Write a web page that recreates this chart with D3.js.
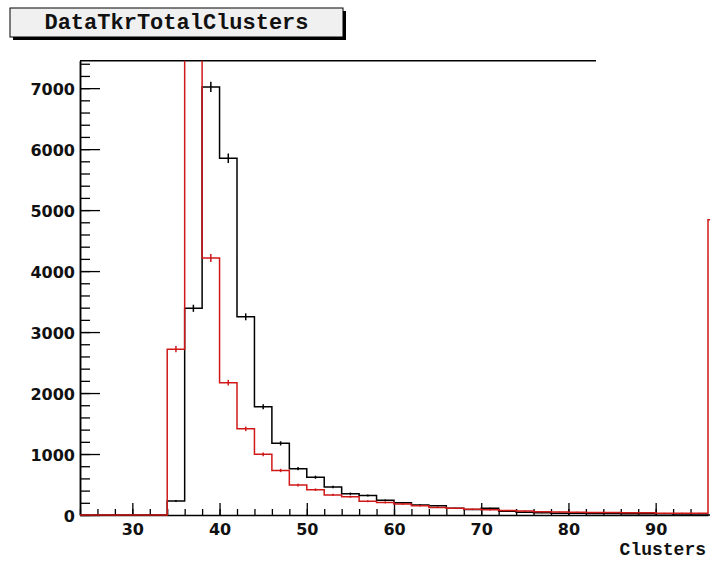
<!DOCTYPE html>
<html><head><meta charset="utf-8">
<script src="https://cdn.jsdelivr.net/npm/d3@7"></script>
<style>
body{margin:0;background:#fff;}
svg{display:block;}
</style></head>
<body>
<svg id="chart" width="710" height="561"></svg>
<script>
// bin lower edges (width 2) and contents
const binEdges = [24,26,28,30,32,34,36,38,40,42,44,46,48,50,52,54,56,58,60,62,64,66,68,70,72,74,76,78,80,82,84,86,88,90,92,94,96,98];
const blackCounts = [0,0,0,0,0,230,3390,7020,5850,3250,1775,1175,760,620,460,350,320,240,200,165,150,110,90,110,60,45,35,30,30,25,25,20,20,20,0,0,0];
const redCounts   = [0,0,0,0,0,2720,10500,4215,2170,1413,995,730,490,415,330,300,225,205,180,150,125,110,95,85,75,65,55,50,45,40,40,35,35,30,30,30,4840];
const xTicks = [30,40,50,60,70,80,90];
const yTicks = [0,1000,2000,3000,4000,5000,6000,7000];
const titleText = "DataTkrTotalClusters";
const xTitle = "Clusters";

const svg = d3.select("#chart");
const L = 80, R = 708, T = 60.7, B = 515;
const x = d3.scaleLinear().domain([24, 96]).range([L, R]);
const y = d3.scaleLinear().domain([0, 7450]).range([B, T]);

svg.append("defs").append("clipPath").attr("id","clip")
  .append("rect").attr("x", L).attr("y", T).attr("width", 710 - L + 2).attr("height", B - T + 1);

function histPath(counts){
  const p = d3.path();
  p.moveTo(x(binEdges[0]), y(0));
  counts.forEach((v,i)=>{
    p.lineTo(x(binEdges[i]), y(v));
    p.lineTo(x(binEdges[i+1]), y(v));
  });
  p.lineTo(x(binEdges[counts.length]), y(0));
  return p.toString();
}
function errBars(g, counts, color){
  g.selectAll("line.err").data(counts.map((v,i)=>({v, c:(binEdges[i]+binEdges[i+1])/2})).filter(d=>d.v>0))
    .enter().append("line")
    .attr("x1", d=>x(d.c)).attr("x2", d=>x(d.c))
    .attr("y1", d=>y(d.v + Math.sqrt(d.v))).attr("y2", d=>y(d.v - Math.sqrt(d.v)))
    .attr("stroke", color).attr("stroke-width", 1.5);
}

// axes
const yAxis = d3.axisLeft(y).tickValues(yTicks).tickSizeInner(-20).tickSizeOuter(0).tickPadding(5).tickFormat(d3.format("d"));
const yMinor = d3.axisLeft(y).tickValues(d3.range(0, 7450, 200)).tickSizeInner(-10).tickSizeOuter(0).tickFormat("");
const xAxis = d3.axisBottom(x).tickValues(xTicks).tickSizeInner(-12).tickSizeOuter(0).tickPadding(9).tickFormat(d3.format("d"));
const xMinor = d3.axisBottom(x).tickValues(d3.range(24, 96, 2)).tickSizeInner(-6).tickSizeOuter(0).tickFormat("");

function styleAxis(g){
  g.selectAll("path.domain").attr("stroke","#000").attr("stroke-width",1.5);
  g.selectAll(".tick line").attr("stroke","#000").attr("stroke-width",1.3);
  g.selectAll(".tick text").attr("fill","#111").style("font-family","'DejaVu Sans',sans-serif")
    .style("font-weight","bold").style("font-size","16px");
}
const gx2 = svg.append("g").attr("transform",`translate(0,${B})`).call(xMinor); styleAxis(gx2);
const gx = svg.append("g").attr("transform",`translate(0,${B})`).call(xAxis); styleAxis(gx);
gx.select("path.domain").remove();
const gy2 = svg.append("g").attr("transform",`translate(${L},0)`).call(yMinor); styleAxis(gy2);
const gy = svg.append("g").attr("transform",`translate(${L},0)`).call(yAxis); styleAxis(gy);
gy.selectAll(".tick text").attr("dy","0.4em");

// top frame line
svg.append("line").attr("x1", L).attr("x2", 596).attr("y1", T).attr("y2", T)
  .attr("stroke","#000").attr("stroke-width",1.5);

// histograms
const plot = svg.append("g").attr("clip-path","url(#clip)");
plot.append("path").attr("d", histPath(blackCounts)).attr("fill","none").attr("stroke","#000").attr("stroke-width",1.5);
errBars(plot.append("g"), blackCounts, "#000");
plot.append("path").attr("d", histPath(redCounts)).attr("fill","none").attr("stroke","#d01818").attr("stroke-width",1.5);
errBars(plot.append("g"), redCounts, "#d01818");

// x title
svg.append("text").attr("x", 706).attr("y", 555).attr("text-anchor","end")
  .style("font-family","'Liberation Mono','DejaVu Sans Mono',monospace").style("font-weight","bold").style("font-size","18px")
  .attr("fill","#111").text(xTitle);

// title box
svg.append("rect").attr("x",13).attr("y",11).attr("width",333).attr("height",29).attr("fill","#000");
svg.append("rect").attr("x",10).attr("y",8).attr("width",333).attr("height",29).attr("fill","#f0f0f0").attr("stroke","#000").attr("stroke-width",1);
svg.append("text").attr("x",176.5).attr("y",29).attr("text-anchor","middle")
  .style("font-family","'Liberation Mono','DejaVu Sans Mono',monospace").style("font-weight","bold").style("font-size","22px")
  .attr("fill","#111").text(titleText);
</script>
</body></html>
